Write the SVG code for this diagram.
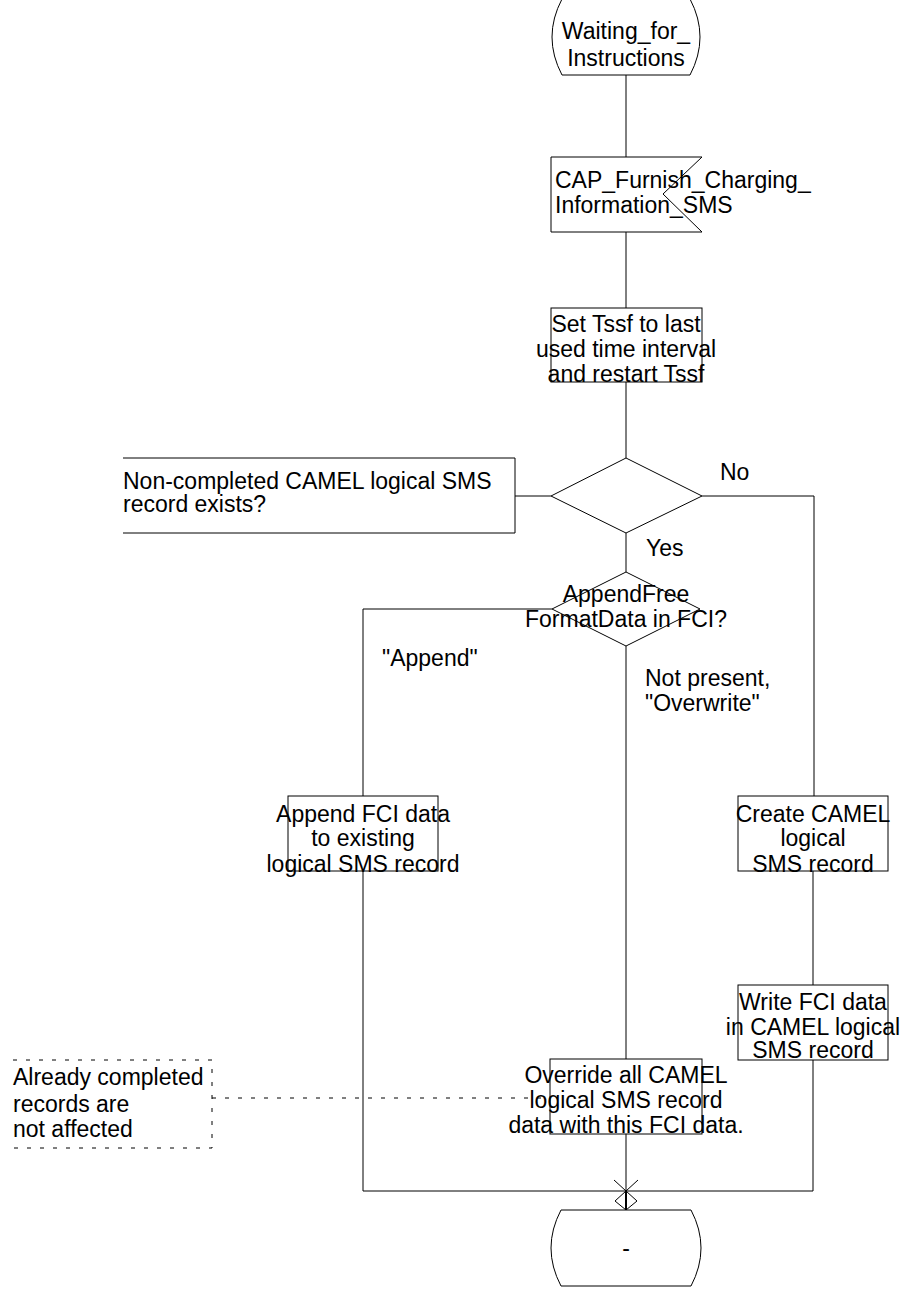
<svg xmlns="http://www.w3.org/2000/svg" width="909" height="1289" viewBox="0 0 909 1289">
<style>
.s{fill:#fff;stroke:#000;stroke-width:1}
.l{fill:none;stroke:#000;stroke-width:1}
.d{fill:none;stroke:#000;stroke-width:1;stroke-dasharray:4,9}
text{font-family:"Liberation Sans",Arial,sans-serif;font-size:23px;fill:#000}
.c{text-anchor:middle}
</style>
<rect width="909" height="1289" fill="#fff"/>
<g id="connectors">
<line class="l" x1="626" y1="75" x2="626" y2="157"/>
<line class="l" x1="626" y1="232" x2="626" y2="308"/>
<line class="l" x1="626" y1="382" x2="626" y2="458"/>
<line class="l" x1="626" y1="533" x2="626" y2="572"/>
<polyline class="l" points="702,496 814,496 814,796"/>
<line class="l" x1="813" y1="871" x2="813" y2="985"/>
<polyline class="l" points="552,609 363,609 363,796"/>
<line class="l" x1="626" y1="646" x2="626" y2="1059"/>
<polyline class="l" points="363,871 363,1191 813,1191 813,1060"/>
<line class="l" x1="626" y1="1134" x2="626" y2="1210"/>
<line class="l" x1="515" y1="496" x2="551" y2="496"/>
<line class="d" x1="212" y1="1098" x2="550" y2="1098"/>
<g id="junction">
<polyline class="l" points="614,1180 626,1191 638,1180"/>
<polygon class="l" points="626,1191 615,1201 626,1210 637,1201"/>
<line x1="626" y1="1191" x2="626" y2="1210" stroke="#000" stroke-width="2"/>
</g>
<text x="720" y="480">No</text>
<text x="646" y="556">Yes</text>
<text x="382" y="666">"Append"</text>
<text x="645" y="686">Not present,</text>
<text x="645" y="711">"Overwrite"</text>
</g>
<g id="start">
<path class="s" d="M562,-1 L690,-1 Q710,37 690,75 L562,75 Q542,37 562,-1 Z"/>
<text class="c" x="626" y="39">Waiting_for_</text>
<text class="c" x="626" y="66">Instructions</text>
</g>
<g id="input">
<polygon class="s" points="551,157 702,157 663,194 702,232 551,232"/>
<text x="555" y="188">CAP_Furnish_Charging_</text>
<text x="555" y="213">Information_SMS</text>
</g>
<g id="task_tssf">
<rect class="s" x="551" y="308" width="151" height="74"/>
<text class="c" x="626" y="332">Set Tssf to last</text>
<text class="c" x="626" y="357">used time interval</text>
<text class="c" x="626" y="382">and restart Tssf</text>
</g>
<g id="decision1">
<polygon class="s" points="626,458 702,496 626,533 551,496"/>
</g>
<g id="comment1">
<polyline class="l" points="123,458 515,458 515,533 123,533"/>
<text x="123" y="489">Non-completed CAMEL logical SMS</text>
<text x="123" y="512">record exists?</text>
</g>
<g id="decision2">
<polygon class="s" points="626,572 700,609 626,646 552,609"/>
<text class="c" x="626" y="602">AppendFree</text>
<text class="c" x="626" y="627">FormatData in FCI?</text>
</g>
<g id="task_append">
<rect class="s" x="288" y="796" width="150" height="75"/>
<text class="c" x="363" y="822">Append FCI data</text>
<text class="c" x="363" y="846">to existing</text>
<text class="c" x="363" y="872">logical SMS record</text>
</g>
<g id="task_create">
<rect class="s" x="738" y="796" width="150" height="75"/>
<text class="c" x="813" y="822">Create CAMEL</text>
<text class="c" x="813" y="846">logical</text>
<text class="c" x="813" y="872">SMS record</text>
</g>
<g id="task_write">
<rect class="s" x="738" y="985" width="150" height="75"/>
<text class="c" x="813" y="1010">Write FCI data</text>
<text class="c" x="813" y="1035">in CAMEL logical</text>
<text class="c" x="813" y="1058">SMS record</text>
</g>
<g id="task_override">
<rect class="s" x="550" y="1059" width="152" height="75"/>
<text class="c" x="626" y="1083">Override all CAMEL</text>
<text class="c" x="626" y="1108">logical SMS record</text>
<text class="c" x="626" y="1133">data with this FCI data.</text>
</g>
<g id="comment2">
<polyline class="d" points="13,1060 212,1060 212,1148 13,1148"/>
<text x="13" y="1085">Already completed</text>
<text x="13" y="1112">records are</text>
<text x="13" y="1137">not affected</text>
</g>
<g id="end">
<path class="s" d="M561,1210 L691,1210 Q711,1248 691,1286 L561,1286 Q541,1248 561,1210 Z"/>
<text class="c" x="626" y="1256">-</text>
</g>
</svg>
